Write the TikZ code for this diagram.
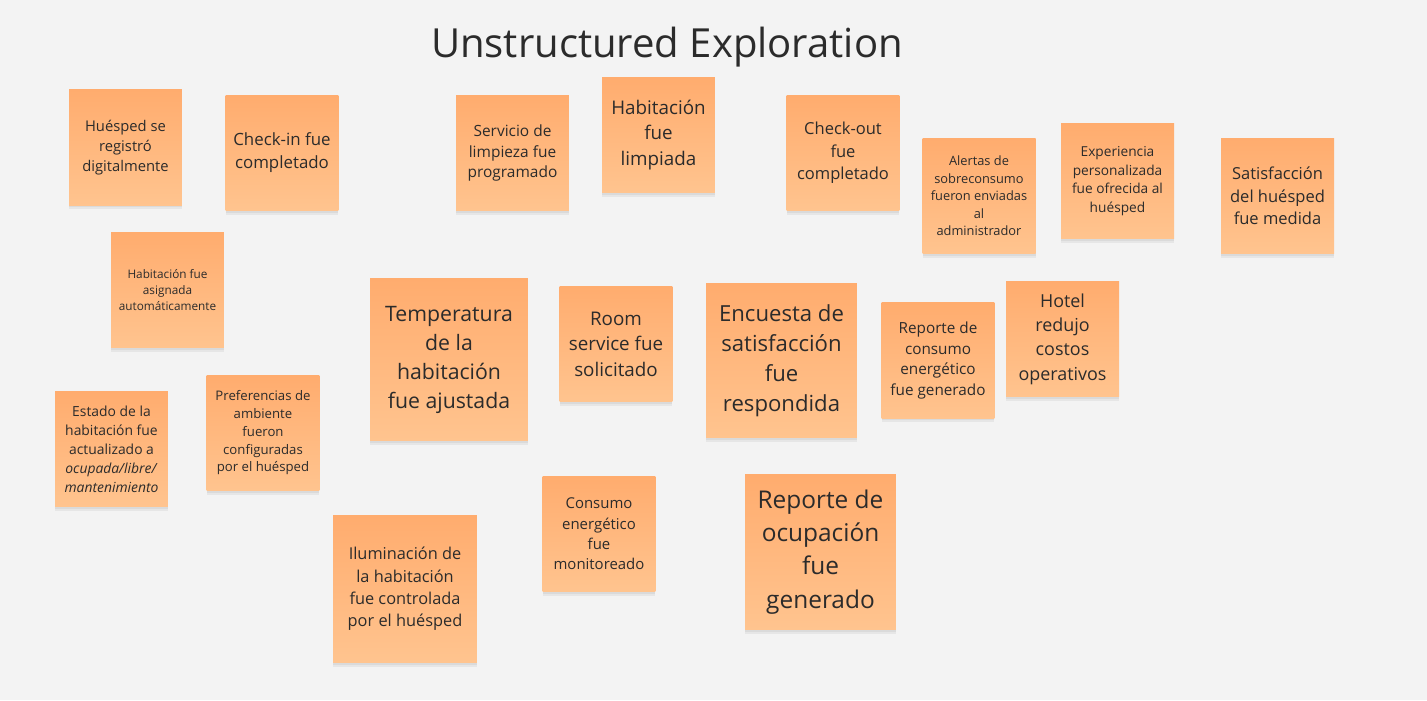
\documentclass[tikz,border=0pt]{standalone}
\usepackage{fontspec}
\setmainfont{Open Sans}
\usetikzlibrary{shadows}
\definecolor{board}{HTML}{F3F3F3}
\definecolor{notetop}{HTML}{FFAC6E}
\definecolor{notebot}{HTML}{FFC48F}
\definecolor{ink}{HTML}{2B2B2B}
\tikzset{
  note/.style={top color=notetop, bottom color=notebot, minimum width=2.26cm,
    minimum height=2.32cm, inner sep=0pt, align=center, text=ink,
    drop shadow={fill=black, opacity=0.05, shadow xshift=0pt, shadow yshift=-2.2pt},
    drop shadow={fill=black, opacity=0.05, shadow xshift=0pt, shadow yshift=-1pt}},
  pxfont/.style 2 args={font=\fontsize{#1}{#2}\selectfont},
  ttl/.style={font=\fontsize{22.8}{27}\selectfont, text=ink},
}

\begin{document}
\begin{tikzpicture}[x=0.02cm, y=-0.02cm]

% The board, in pixels of the screenshot.
\fill[board] (0,0) rectangle (1427,700);
\useasboundingbox (0,0) rectangle (1427,700);

\node[ttl] (title) at (667,47) {Unstructured Exploration};

% Top row of events.
\node[note, pxfont={8.4}{11.4}] (registro) at (125.5,147.5) {Huésped se\\registró\\digitalmente};
\node[note, pxfont={9.6}{13.1}] (checkin) at (282,153) {Check-in fue\\completado};
\node[note, pxfont={8.8}{11.9}] (limpprog) at (512.5,153) {Servicio de\\limpieza fue\\programado};
\node[note, pxfont={10.7}{14.5}] (limpiada) at (658.5,135) {Habitación\\fue\\limpiada};
\node[note, pxfont={9.4}{12.8}] (checkout) at (843,153) {Check-out\\fue\\completado};
\node[note, pxfont={7.3}{10.0}] (alertas) at (979,196) {Alertas de\\sobreconsumo\\fueron enviadas\\al\\administrador};
\node[note, pxfont={7.8}{10.6}] (experiencia) at (1117.5,181) {Experiencia\\personalizada\\fue ofrecida al\\huésped};
\node[note, pxfont={9.4}{12.8}] (satisf) at (1277.5,196) {Satisfacción\\del huésped\\fue medida};

% Left column.
\node[note, pxfont={6.7}{9.1}] (asignada) at (167.5,290) {Habitación fue\\asignada\\automáticamente};
\node[note, pxfont={7.9}{10.8}] (estado) at (111.5,449) {Estado de la\\habitación fue\\actualizado a\\\textit{ocupada/libre/}\\\textit{mantenimiento}};
\node[note, pxfont={7.5}{10.1}] (preferencias) at (263,433) {Preferencias de\\ambiente\\fueron\\configuradas\\por el huésped};

% Middle band.
\node[note, pxfont={12.1}{16.5}, minimum width=3.16cm, minimum height=3.26cm] (temperatura) at (449,359.5) {Temperatura\\de la\\habitación\\fue ajustada};
\node[note, pxfont={10.7}{14.5}] (roomserv) at (616,344) {Room\\service fue\\solicitado};
\node[note, pxfont={12.6}{17.1}, minimum width=3.02cm, minimum height=3.10cm] (encuesta) at (781.5,360.5) {Encuesta de\\satisfacción\\fue\\respondida};
\node[note, pxfont={8.7}{11.8}] (repconsumo) at (938,360.5) {Reporte de\\consumo\\energético\\fue generado};
\node[note, pxfont={10.2}{13.8}] (costos) at (1062.5,339) {Hotel\\redujo\\costos\\operativos};

% Bottom band.
\node[note, pxfont={8.5}{11.6}] (monitoreo) at (599,534) {Consumo\\energético\\fue\\monitoreado};
\node[note, pxfont={13.9}{18.9}, minimum width=3.02cm, minimum height=3.12cm] (repocup) at (820.5,552) {Reporte de\\ocupación\\fue\\generado};
\node[note, pxfont={9.3}{12.7}, minimum width=2.88cm, minimum height=2.96cm] (iluminacion) at (405,589) {Iluminación de\\la habitación\\fue controlada\\por el huésped};

\end{tikzpicture}
\end{document}
